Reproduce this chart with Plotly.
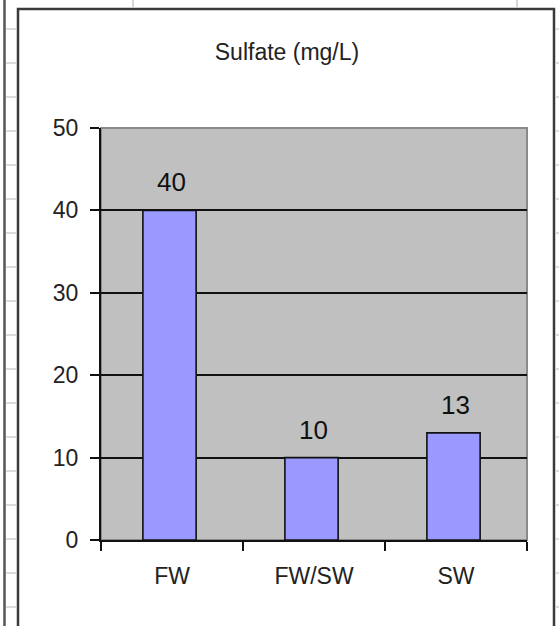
import plotly.graph_objects as go

# data
CATEGORIES = ["FW", "FW/SW", "SW"]
SULFATE = [40, 10, 13]
Y_TICKS = [0, 10, 20, 30, 40, 50]

W, H = 559, 626
# plot area in pixels
PL, PR, PT, PB = 101, 527, 128, 540

FONT = "Liberation Sans, Arial, sans-serif"


def px_x(x):
    return (x - PL) / (PR - PL)


def px_y(y):
    return (PB - y) / (PB - PT)


fig = go.Figure()

fig.add_bar(
    x=CATEGORIES,
    y=SULFATE,
    width=0.375,
    offset=-0.205,
    marker={"color": "#9999FF", "line": {"color": "#111111", "width": 1.6}},
    showlegend=False,
)

# value labels above bars
for cat, val in zip(CATEGORIES, SULFATE):
    fig.add_annotation(
        x=cat,
        y=val,
        text=str(val),
        showarrow=False,
        yanchor="bottom",
        yshift=11,
        xshift=-1,
        font={"family": FONT, "size": 26, "color": "#111111"},
    )

shapes = []

# plot area border (grey, top/right)
shapes.append(
    dict(
        type="rect", xref="paper", yref="paper", x0=0, x1=1, y0=0, y1=1,
        line={"color": "#8a8a8a", "width": 2}, layer="below",
    )
)

# chart frame
shapes.append(
    dict(
        type="rect", xref="paper", yref="paper",
        x0=px_x(18), x1=px_x(554), y0=px_y(640), y1=px_y(9),
        line={"color": "#3a3a3a", "width": 2.5}, layer="above",
    )
)

# spreadsheet grid outside the chart
shapes.append(
    dict(
        type="line", xref="paper", yref="paper",
        x0=px_x(4.5), x1=px_x(4.5), y0=px_y(0), y1=px_y(626),
        line={"color": "#555555", "width": 2.5},
    )
)
for k in range(18):
    yy = 29 + 34 * k
    shapes.append(
        dict(
            type="line", xref="paper", yref="paper",
            x0=px_x(6), x1=px_x(17), y0=px_y(yy), y1=px_y(yy),
            line={"color": "#d0d0d0", "width": 1.5},
        )
    )
    shapes.append(
        dict(
            type="line", xref="paper", yref="paper",
            x0=px_x(556), x1=px_x(559), y0=px_y(yy), y1=px_y(yy),
            line={"color": "#d0d0d0", "width": 1.5},
        )
    )
for xx in [133, 517]:
    shapes.append(
        dict(
            type="line", xref="paper", yref="paper",
            x0=px_x(xx), x1=px_x(xx), y0=px_y(0), y1=px_y(7),
            line={"color": "#c8c8c8", "width": 1.5},
        )
    )

fig.update_layout(
    width=W,
    height=H,
    margin={"l": PL, "r": W - PR, "t": PT, "b": H - PB, "pad": 0},
    paper_bgcolor="white",
    plot_bgcolor="#C0C0C0",
    shapes=shapes,
    title={
        "text": "Sulfate (mg/L)",
        "x": 287 / W,
        "xanchor": "center",
        "y": 1 - 52 / H,
        "yanchor": "middle",
        "font": {"family": FONT, "size": 23, "color": "#222222"},
    },
    font={"family": FONT, "size": 23, "color": "#222222"},
)

fig.update_xaxes(
    type="category",
    range=[-0.5, 2.5],
    showline=True,
    linecolor="#111111",
    linewidth=2,
    ticks="outside",
    tickson="boundaries",
    ticklen=9,
    tickwidth=2,
    tickcolor="#111111",
    ticklabelstandoff=14,
    showgrid=False,
    tickfont={"family": FONT, "size": 23, "color": "#222222"},
)

fig.update_yaxes(
    range=[0, 50],
    tickvals=Y_TICKS,
    showline=True,
    linecolor="#111111",
    linewidth=2,
    ticks="outside",
    ticklen=9,
    tickwidth=2,
    tickcolor="#111111",
    ticklabelstandoff=7,
    showgrid=True,
    gridcolor="#111111",
    gridwidth=1.6,
    zeroline=False,
    tickfont={"family": FONT, "size": 23, "color": "#222222"},
)

# drop the default page margin so the figure sits at the window's origin
fig.write_html(
    "out.html",
    config={"displayModeBar": False},
    post_script="document.body.style.margin='0';document.body.style.overflow='hidden';",
)
